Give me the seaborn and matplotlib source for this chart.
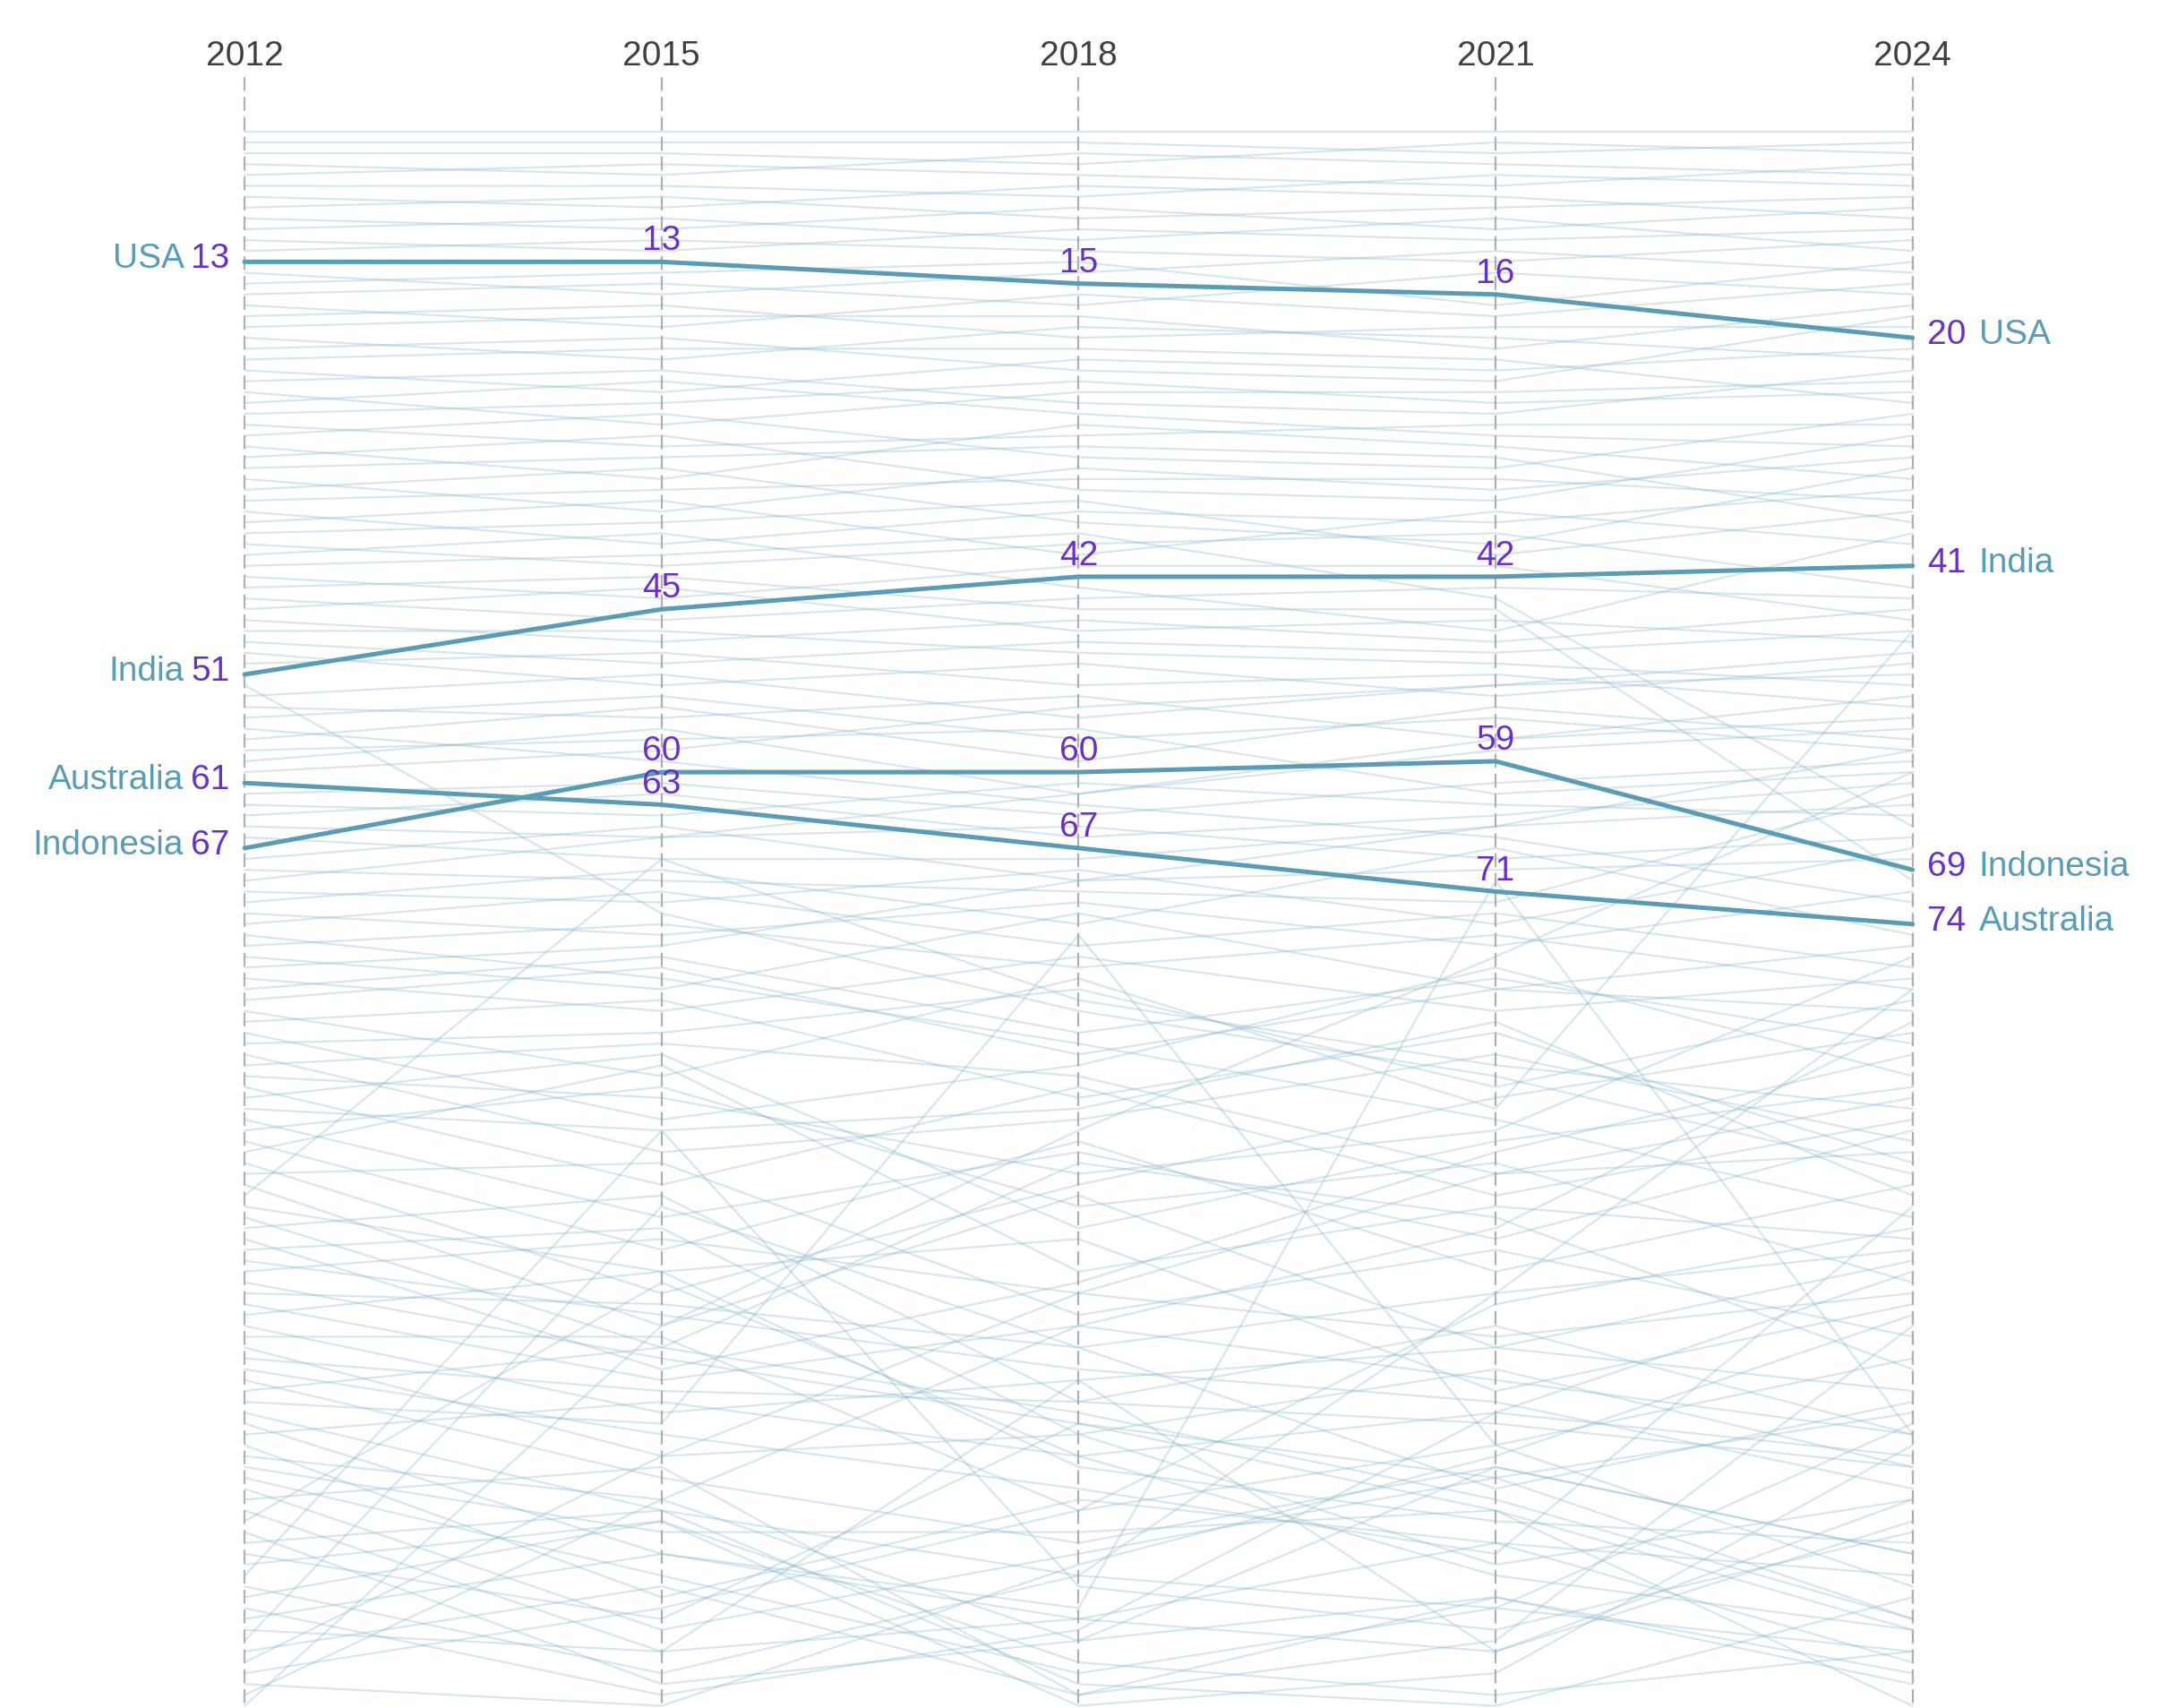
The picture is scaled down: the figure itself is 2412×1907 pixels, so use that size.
import matplotlib
matplotlib.use("Agg")
import matplotlib.pyplot as plt
import seaborn as sns
import pandas as pd

years = [2012, 2015, 2018, 2021, 2024]

# highlighted countries (rank per year)
highlight_names = ["USA", "India", "Australia", "Indonesia"]
usa_ranks = [13, 13, 15, 16, 20]
india_ranks = [51, 45, 42, 42, 41]
australia_ranks = [61, 63, 67, 71, 74]
indonesia_ranks = [67, 60, 60, 59, 69]
highlight_ranks = [usa_ranks, india_ranks, australia_ranks, indonesia_ranks]

# all other countries, one entry per country in each year list
bg_2012 = [1, 2, 3, 4, 5, 6, 7, 8, 9, 10,
           11, 12, 14, 15, 16, 17, 18, 19, 20, 21,
           22, 23, 24, 25, 26, 27, 28, 29, 30, 31,
           32, 33, 34, 35, 36, 37, 38, 39, 40, 41,
           42, 43, 44, 45, 46, 47, 48, 49, 50, 52,
           53, 54, 55, 56, 57, 58, 59, 60, 62, 63,
           64, 65, 66, 68, 69, 70, 71, 72, 73, 74,
           75, 76, 77, 78, 79, 80, 81, 82, 83, 84,
           85, 86, 87, 88, 89, 90, 91, 92, 93, 94,
           95, 96, 97, 98, 99, 100, 101, 102, 103, 104,
           105, 106, 107, 108, 109, 110, 111, 112, 113, 114,
           115, 116, 117, 118, 119, 120, 121, 122, 123, 124,
           125, 126, 127, 128, 129, 130, 131, 132, 133, 134,
           135, 136, 137, 138, 139, 140, 141, 142, 143, 144,
           145, 146]
bg_2015 = [1, 2, 3, 5, 4, 6, 8, 7, 10, 9,
           12, 11, 16, 14, 15, 19, 17, 18, 22, 20,
           21, 25, 23, 28, 24, 26, 30, 27, 33, 29,
           31, 36, 32, 34, 39, 35, 37, 41, 38, 40,
           44, 42, 46, 43, 48, 47, 50, 52, 49, 73,
           51, 55, 53, 59, 54, 57, 56, 58, 61, 64,
           62, 66, 68, 65, 70, 66, 72, 69, 75, 71,
           79, 74, 80, 76, 82, 77, 78, 88, 81, 92,
           84, 95, 85, 90, 98, 86, 93, 101, 89, 104,
           87, 108, 96, 111, 68, 106, 113, 99, 115, 102,
           110, 103, 114, 109, 116, 106, 119, 112, 123, 117,
           121, 125, 113, 120, 128, 132, 118, 136, 127, 130,
           134, 139, 124, 141, 107, 144, 128, 138, 129, 93,
           143, 129, 145, 132, 141, 100, 135, 123, 137, 146,
           127, 111]
bg_2018 = [1, 2, 4, 3, 5, 7, 6, 9, 8, 11,
           10, 12, 14, 13, 17, 16, 20, 18, 19, 23,
           21, 22, 26, 25, 27, 24, 29, 31, 28, 34,
           30, 32, 37, 33, 36, 40, 35, 39, 43, 38,
           41, 45, 44, 47, 46, 49, 48, 50, 52, 82,
           55, 53, 57, 63, 59, 56, 62, 54, 64, 61,
           66, 65, 68, 70, 71, 62, 69, 74, 72, 76,
           85, 78, 73, 70, 77, 84, 86, 79, 90, 87,
           80, 92, 88, 97, 89, 102, 91, 95, 100, 94,
           106, 98, 110, 99, 81, 103, 96, 118, 107, 121,
           115, 108, 120, 113, 111, 124, 116, 128, 121, 118,
           126, 131, 119, 75, 134, 138, 123, 127, 140, 130,
           143, 132, 145, 138, 123, 140, 144, 120, 146, 135,
           134, 142, 139, 137, 116, 113, 145, 108, 128, 133,
           111, 93]
bg_2021 = [1, 3, 2, 4, 6, 5, 7, 8, 10, 9,
           11, 13, 12, 17, 14, 18, 19, 21, 20, 24,
           22, 23, 27, 25, 29, 26, 28, 32, 30, 35,
           31, 34, 39, 33, 37, 36, 40, 38, 47, 44,
           41, 45, 43, 46, 48, 50, 49, 53, 51, 88,
           52, 57, 55, 66, 54, 62, 58, 52, 61, 63,
           64, 68, 65, 69, 72, 57, 74, 67, 76, 73,
           92, 75, 80, 65, 82, 79, 80, 91, 84, 78,
           89, 86, 97, 93, 99, 94, 83, 103, 96, 106,
           100, 90, 104, 113, 87, 117, 101, 111, 95, 115,
           118, 112, 125, 108, 116, 129, 113, 122, 133, 120,
           132, 124, 127, 122, 137, 141, 119, 131, 136, 128,
           137, 125, 140, 131, 134, 124, 146, 128, 143, 139,
           108, 145, 119, 70, 141, 126, 136, 97, 109, 123,
           102, 77]
bg_2024 = [1, 2, 3, 5, 4, 6, 9, 7, 8, 12,
           10, 11, 14, 13, 16, 15, 19, 17, 22, 18,
           26, 21, 23, 24, 30, 25, 28, 27, 33, 29,
           37, 31, 32, 35, 34, 39, 36, 43, 38, 65,
           46, 70, 44, 48, 45, 52, 47, 50, 54, 97,
           51, 53, 58, 72, 57, 60, 56, 49, 59, 64,
           61, 66, 63, 68, 62, 55, 67, 75, 71, 78,
           101, 80, 76, 58, 79, 85, 82, 47, 96, 88,
           81, 94, 90, 77, 92, 89, 99, 93, 107, 98,
           103, 84, 112, 105, 91, 109, 115, 121, 86, 124,
           126, 108, 119, 104, 121, 131, 117, 114, 127, 124,
           100, 132, 138, 135, 141, 129, 123, 134, 143, 139,
           120, 138, 111, 142, 139, 132, 136, 146, 122, 130,
           80, 141, 106, 121, 127, 118, 144, 95, 102, 110,
           83, 60]
bg_years = [bg_2012, bg_2015, bg_2018, bg_2021, bg_2024]

TEAL = "#5a9cb5"
PURPLE = "#6930c8"
BG_LINE = "#8cb8cc"

rows = []
for yr, ranks in zip(years, bg_years):
    for i, r in enumerate(ranks):
        rows.append({"country": f"c{i}", "year": yr, "rank": r})
bg_df = pd.DataFrame(rows)

rows = []
for name, ranks in zip(highlight_names, highlight_ranks):
    for yr, r in zip(years, ranks):
        rows.append({"country": name, "year": yr, "rank": r})
hl_df = pd.DataFrame(rows)

sns.set_theme(style="white")
plt.rcParams["font.family"] = ["Liberation Sans", "DejaVu Sans"]

fig = plt.figure(figsize=(12.06, 9.54), dpi=200)
ax = fig.add_axes([0, 0, 1, 1])

ax.vlines(years, -4, 147, colors="#b0b0b0", linestyles=[(0, (7, 3))], lw=0.8, zorder=0)

sns.lineplot(data=bg_df, x="year", y="rank", units="country", estimator=None,
             color=BG_LINE, alpha=0.35, lw=0.8, ax=ax, legend=False, zorder=1)
sns.lineplot(data=hl_df, x="year", y="rank", units="country", estimator=None,
             color=TEAL, lw=1.8, ax=ax, legend=False, zorder=3)

ax.set_xlim(2010.24, 2025.78)
ax.set_ylim(146.2, -11.2)
ax.set_axis_off()

for yr in years:
    ax.text(yr, -6.0, str(yr), ha="center", va="center", fontsize=14, color="#404040")

renderer = fig.canvas.get_renderer()
fs = 14
for name, ranks in zip(highlight_names, highlight_ranks):
    # left end: name + value
    num = ax.annotate(str(ranks[0]), (years[0], ranks[0]), xytext=(-6, 1.5),
                      textcoords="offset points", ha="right", va="center",
                      color=PURPLE, fontsize=fs, zorder=5)
    w = num.get_window_extent(renderer).width * 72 / fig.dpi
    ax.annotate(name, (years[0], ranks[0]), xytext=(-6 - w - 2.8, 1.5),
                textcoords="offset points", ha="right", va="center",
                color=TEAL, fontsize=fs, zorder=5)
    # values in between
    for yr, r in zip(years[1:-1], ranks[1:-1]):
        ax.annotate(str(r), (yr, r), xytext=(0, 5), textcoords="offset points",
                    ha="center", va="baseline", color=PURPLE, fontsize=fs, zorder=5)
    # right end: value + name
    num = ax.annotate(str(ranks[-1]), (years[-1], ranks[-1]), xytext=(6, 1.5),
                      textcoords="offset points", ha="left", va="center",
                      color=PURPLE, fontsize=fs, zorder=5)
    w = num.get_window_extent(renderer).width * 72 / fig.dpi
    ax.annotate(name, (years[-1], ranks[-1]), xytext=(6 + w + 5, 1.5),
                textcoords="offset points", ha="left", va="center",
                color=TEAL, fontsize=fs, zorder=5)

fig.savefig("out.png", dpi=200, facecolor="white")
